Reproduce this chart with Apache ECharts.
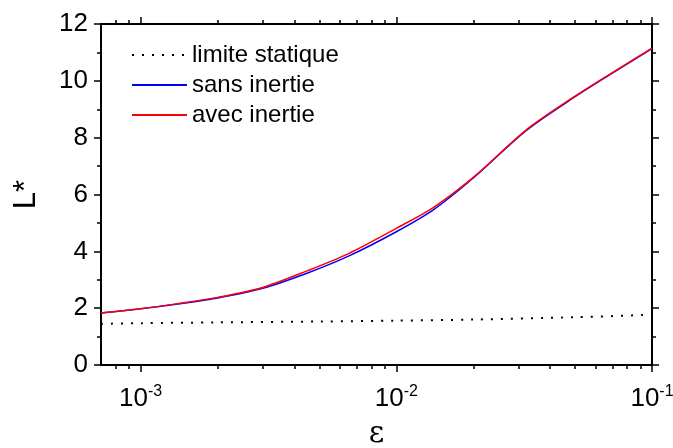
<!DOCTYPE html>
<html lang="fr">
<head>
<meta charset="UTF-8">
<title>L* en fonction de ε</title>
<script src="https://cdn.jsdelivr.net/npm/echarts@6/dist/echarts.min.js"></script>
<style>
html, body { margin: 0; padding: 0; background: #fff; }
#main { width: 673px; height: 448px; }
</style>
</head>
<body>
<div id="main"></div>
<script>
// valeurs
var epsCourbe   = [7e-4, 1e-3, 1.4e-3, 2e-3, 3e-3, 4.5e-3, 6.5e-3, 1e-2, 1.4e-2, 2e-2, 3.2e-2, 4.7e-2, 6.8e-2, 1e-1];
var sansInertie = [1.83, 1.98, 2.15, 2.36, 2.70, 3.24, 3.83, 4.69, 5.47, 6.58, 8.23, 9.28, 10.20, 11.13];
var avecInertie = [1.83, 1.98, 2.16, 2.38, 2.73, 3.32, 3.92, 4.81, 5.55, 6.60, 8.25, 9.30, 10.22, 11.15];

var epsStatique    = [7e-4, 1e-3, 2e-3, 5e-3, 1e-2, 2e-2, 5e-2, 1e-1];
var limiteStatique = [1.45, 1.47, 1.50, 1.53, 1.56, 1.60, 1.68, 1.77];

var ticksMajeurs = [1e-3, 1e-2, 1e-1];
var ticksMineurs = [8e-4, 9e-4, 2e-3, 3e-3, 4e-3, 5e-3, 6e-3, 7e-3, 8e-3, 9e-3,
                    2e-2, 3e-2, 4e-2, 5e-2, 6e-2, 7e-2, 8e-2, 9e-2];

function paires(xs, ys) {
    var res = [];
    for (var i = 0; i < xs.length; i++) res.push([xs[i], ys[i]]);
    return res;
}

function axeX(position, ticks, longueur, avecLabels) {
    return {
        type: 'log', logBase: 10, min: 7e-4, max: 0.1,
        position: position,
        axisLine: { show: true, onZero: false, lineStyle: { color: '#000', width: 2 } },
        axisTick: { show: true, customValues: ticks, length: longueur, lineStyle: { color: '#000', width: 1.5 } },
        axisLabel: {
            show: avecLabels,
            customValues: ticksMajeurs,
            margin: 19,
            formatter: function (v) {
                return '{b|10}{s|' + Math.round(Math.log10(v)) + '}';
            },
            rich: {
                b: { fontSize: 26, fontFamily: 'Liberation Sans', color: '#000', lineHeight: 30 },
                s: { fontSize: 16, fontFamily: 'Liberation Sans', color: '#000', lineHeight: 30, verticalAlign: 'top', padding: [0, 0, 20, 0] }
            }
        },
        splitLine: { show: false },
        minorTick: { show: false }
    };
}

function axeY(position, avecLabels) {
    return {
        type: 'value', min: 0, max: 12, interval: 2,
        position: position,
        axisLine: { show: true, onZero: false, lineStyle: { color: '#000', width: 2 } },
        axisTick: { show: true, length: 7, lineStyle: { color: '#000', width: 1.5 } },
        minorTick: { show: true, splitNumber: 2, length: 4, lineStyle: { color: '#000', width: 1.5 } },
        axisLabel: { show: avecLabels, margin: 13, fontSize: 26, fontFamily: 'Liberation Sans', color: '#000' },
        splitLine: { show: false }
    };
}

var myChart = echarts.init(document.getElementById('main'));

var xAxes = [
    axeX('bottom', ticksMajeurs, 7, true),
    axeX('bottom', ticksMineurs, 4, false),
    axeX('top', ticksMajeurs, 7, false),
    axeX('top', ticksMineurs, 4, false)
];
xAxes[0].name = 'ε';
xAxes[0].nameLocation = 'middle';
xAxes[0].nameGap = 54;
xAxes[0].nameMoveOverlap = false;
xAxes[0].nameTextStyle = { fontSize: 30, fontFamily: 'DejaVu Serif', color: '#000' };

var yAxes = [axeY('left', true), axeY('right', false)];
yAxes[0].name = 'L*';
yAxes[0].nameLocation = 'middle';
yAxes[0].nameRotate = 90;
yAxes[0].nameGap = 59;
yAxes[0].nameTextStyle = { fontSize: 31, fontFamily: 'Liberation Sans', color: '#000' };

var option = {
    animation: false,
    backgroundColor: '#fff',
    grid: { left: 101, right: 21, top: 24, bottom: 83, containLabel: false, outerBoundsMode: 'none' },
    legend: {
        orient: 'vertical',
        left: 131, top: 43, padding: 0,
        itemWidth: 55, itemHeight: 14, itemGap: 6,
        itemStyle: { opacity: 0 },
        textStyle: { fontSize: 24, fontFamily: 'Liberation Sans', color: '#000', lineHeight: 24 },
        data: ['limite statique', 'sans inertie', 'avec inertie']
    },
    xAxis: xAxes,
    yAxis: yAxes,
    series: [{
        name: 'limite statique',
        type: 'line',
        data: paires(epsStatique, limiteStatique),
        symbol: 'none',
        smooth: 0.3,
        color: '#000',
        lineStyle: { color: '#000', width: 2, type: [2, 8] }
    }, {
        name: 'sans inertie',
        type: 'line',
        data: paires(epsCourbe, sansInertie),
        symbol: 'none',
        smooth: 0.3,
        color: '#0000ff',
        lineStyle: { color: '#0000ff', width: 1.5 }
    }, {
        name: 'avec inertie',
        type: 'line',
        data: paires(epsCourbe, avecInertie),
        symbol: 'none',
        smooth: 0.3,
        color: '#ff0000',
        lineStyle: { color: '#ff0000', width: 1.5 }
    }]
};

myChart.setOption(option);
</script>
</body>
</html>
